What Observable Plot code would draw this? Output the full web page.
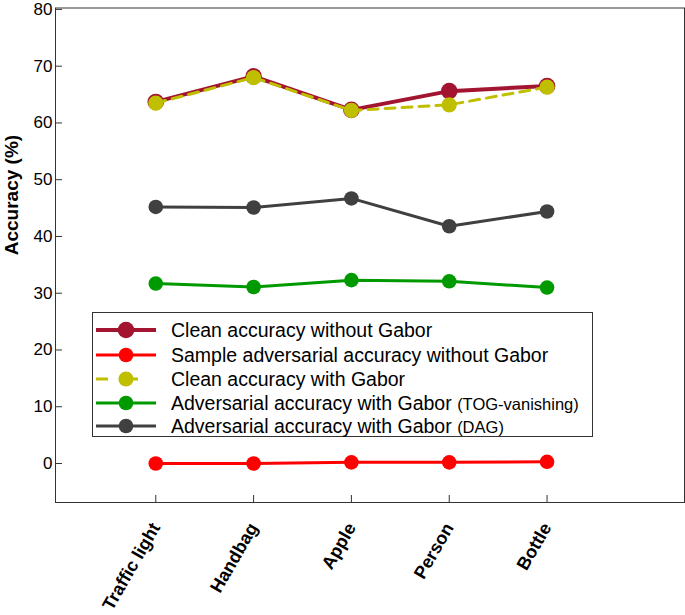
<!DOCTYPE html>
<html>
<head>
<meta charset="utf-8">
<script src="https://cdn.jsdelivr.net/npm/d3@7"></script>
<script src="https://cdn.jsdelivr.net/npm/@observablehq/plot@0.6"></script>
<style>
  html, body { margin: 0; padding: 0; background: white; }
  #wrap { position: relative; width: 685px; height: 615px; font-family: "Liberation Sans", Arial, sans-serif; }
  #legend { position: absolute; left: 92px; top: 312px; width: 501px; height: 125px; border: 1px solid #333; background: white; box-sizing: border-box; }
  .row { position: absolute; left: 0; height: 24px; width: 100%; }
  .row svg { position: absolute; left: 2px; top: 0; }
  .row span.lab { position: absolute; left: 78px; top: 0; line-height: 24px; font-size: 19.5px; color: #000; white-space: nowrap; }
  .row span.small { font-size: 16.5px; }
</style>
</head>
<body>
<div id="wrap"></div>
<script>
const categories = ["Traffic light", "Handbag", "Apple", "Person", "Bottle"];
const cleanNoGabor = [63.7, 68.2, 62.3, 65.6, 66.5];
const advNoGabor = [0.0, 0.0, 0.2, 0.2, 0.3];
const cleanGabor = [63.5, 68.0, 62.2, 63.2, 66.3];
const advTOG = [31.7, 31.1, 32.3, 32.1, 31.0];
const advDAG = [45.2, 45.1, 46.7, 41.8, 44.4];
const yTicks = [0, 10, 20, 30, 40, 50, 60, 70, 80];

const seriesNames = [
  "Clean accuracy without Gabor",
  "Sample adversarial accuracy without Gabor",
  "Clean accuracy with Gabor",
  "Adversarial accuracy with Gabor",
  "Adversarial accuracy with Gabor"
];
const seriesNotes = ["", "", "", "(TOG-vanishing)", "(DAG)"];
const seriesValues = [cleanNoGabor, advNoGabor, cleanGabor, advTOG, advDAG];
const seriesColors = ["#A2142F", "#FF0000", "#BFBF00", "#009A00", "#404040"];
const seriesWidths = [4, 3, 3, 3, 3];
const seriesDash = [null, null, "10,7", null, null];
const seriesR = [8.3, 7.3, 7.6, 7.3, 7.3];

const tables = seriesValues.map((vals, s) =>
  vals.map((v, i) => ({series: s, idx: i + 1, cat: categories[i], value: v})));

const yMin = -6.87, yMax = 80.25;
const xMin = -0.025, xMax = 6.405;

const marks = [Plot.frame({stroke: "#333", strokeWidth: 1})];
// inward ticks
marks.push(Plot.ruleY(yTicks, {x1: xMin, x2: xMin + 7 / 97.85, stroke: "#333"}));
marks.push(Plot.ruleX([1, 2, 3, 4, 5], {y1: yMin, y2: yMin + 7 / 5.68, stroke: "#333"}));
marks.push(Plot.axisY({ticks: yTicks, tickSize: 0, tickPadding: 3, fontSize: 17, label: null}));
marks.push(Plot.axisX({ticks: [1, 2, 3, 4, 5], tickFormat: (i) => categories[i - 1], tickSize: 0, tickPadding: 22,
  tickRotate: -60, fontSize: 18, fontWeight: "bold", label: null}));
marks.push(Plot.text(["Accuracy (%)"], {frameAnchor: "left", dx: -44, rotate: -90, fontSize: 19, fontWeight: "bold", fill: "black"}));

tables.forEach((t, s) => {
  marks.push(Plot.line(t, {x: "idx", y: "value", stroke: seriesColors[s], strokeWidth: seriesWidths[s],
    strokeDasharray: seriesDash[s] || undefined}));
  marks.push(Plot.dot(t, {x: "idx", y: "value", r: seriesR[s], fill: seriesColors[s], stroke: null}));
});

const chart = Plot.plot({
  width: 685, height: 615,
  marginLeft: 55, marginRight: 1, marginTop: 7.5, marginBottom: 113,
  x: {domain: [xMin, xMax]},
  y: {domain: [yMin, yMax]},
  style: {fontFamily: "'Liberation Sans', Arial, sans-serif", color: "black", background: "white"},
  marks
});
const wrap = document.getElementById("wrap");
wrap.appendChild(chart);

// legend
const legend = document.createElement("div");
legend.id = "legend";
const rowTops = [5, 30, 53.5, 77.5, 101];
seriesNames.forEach((name, s) => {
  const row = document.createElement("div");
  row.className = "row";
  row.style.top = rowTops[s] + "px";
  const sw = d3.create("svg").attr("width", 64).attr("height", 24);
  sw.append("line").attr("x1", 1).attr("x2", 61).attr("y1", 12).attr("y2", 12)
    .attr("stroke", seriesColors[s]).attr("stroke-width", seriesWidths[s])
    .attr("stroke-dasharray", seriesDash[s] ? "12,18" : null);
  sw.append("circle").attr("cx", 31).attr("cy", 12).attr("r", seriesR[s]).attr("fill", seriesColors[s]);
  row.appendChild(sw.node());
  const lab = document.createElement("span");
  lab.className = "lab";
  lab.textContent = name + (seriesNotes[s] ? " " : "");
  if (seriesNotes[s]) {
    const sm = document.createElement("span");
    sm.className = "small";
    sm.textContent = seriesNotes[s];
    lab.appendChild(sm);
  }
  row.appendChild(lab);
  legend.appendChild(row);
});
wrap.appendChild(legend);
</script>
</body>
</html>
